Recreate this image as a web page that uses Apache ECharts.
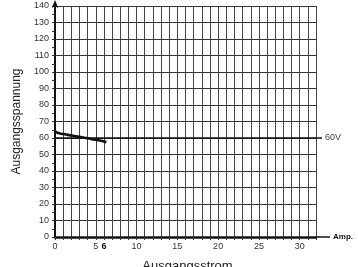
<!DOCTYPE html>
<html>
<head>
<meta charset="utf-8">
<script src="https://cdn.jsdelivr.net/npm/echarts@6/dist/echarts.min.js"></script>
<style>
  html, body { margin: 0; padding: 0; background: #fff; }
  #chart { width: 358px; height: 267px; }
</style>
</head>
<body>
<div id="chart"></div>
<script>
// Kennlinie: Ausgangsstrom (A) -> Ausgangsspannung (V)
const currentA = [0, 0.3, 1, 2, 3, 4, 5, 6.3];
const voltageV = [64.2, 63.2, 62.4, 61.5, 60.7, 59.8, 58.9, 57.5];
const xLabels = [0, 5, 6, 10, 15, 20, 25, 30];
const refVoltage = 60;
const refLabel = '60V';

const chart = echarts.init(document.getElementById('chart'), null, { renderer: 'canvas' });

const textColor = '#333';
const font = 'Liberation Sans, Arial, sans-serif';

chart.setOption({
  animation: false,
  grid: { left: 55, right: 42, top: 6, bottom: 30, containLabel: false, outerBoundsMode: 'none' },
  xAxis: {
    type: 'value',
    min: 0, max: 32, interval: 1,
    name: 'Ausgangsstrom',
    nameLocation: 'middle',
    nameGap: 23,
    nameTextStyle: { fontFamily: font, fontSize: 13, color: '#222', padding: [0, 0, 0, 4] },
    axisLine: { lineStyle: { color: '#111', width: 2.5 } },
    axisTick: { show: true, length: 3, lineStyle: { color: '#333' } },
    axisLabel: {
      margin: 5,
      fontFamily: font, fontSize: 9, color: textColor,
      formatter: (v) => {
        if (!xLabels.includes(v)) return '';
        return v === 6 ? '{b|6}' : String(v);
      },
      rich: { b: { fontWeight: 'bold', fontSize: 9, color: '#111', fontFamily: font } }
    },
    splitLine: { show: true, lineStyle: { color: '#444', width: 1 } }
  },
  yAxis: {
    type: 'value',
    min: 0, max: 140, interval: 10,
    name: 'Ausgangsspannung',
    nameLocation: 'middle',
    nameGap: 26,
    nameTextStyle: { fontFamily: font, fontSize: 12, color: '#222' },
    axisLine: { show: true, lineStyle: { color: '#111', width: 2 }, symbol: ['none', 'arrow'], symbolSize: [5, 8], symbolOffset: [0, 6] },
    axisTick: { show: true, length: 3, lineStyle: { color: '#333' } },
    minorTick: { show: true, splitNumber: 2, length: 3, lineStyle: { color: '#333' } },
    axisLabel: { margin: 6, fontFamily: font, fontSize: 9, color: textColor },
    splitLine: { show: true, lineStyle: { color: '#333', width: 1 } }
  },
  series: [
    {
      type: 'line',
      data: currentA.map((x, i) => [x, voltageV[i]]),
      smooth: true,
      showSymbol: false,
      lineStyle: { color: '#111', width: 2.6 },
      z: 5
    }
  ]
});

// Dekoration: Achsenpfeil, 60V-Linie, Beschriftungen
function decorate() {
  const origin = chart.convertToPixel({ gridIndex: 0 }, [0, 0]);
  const xEnd = chart.convertToPixel({ gridIndex: 0 }, [32, 0]);
  const ref0 = chart.convertToPixel({ gridIndex: 0 }, [0, refVoltage]);
  chart.setOption({
    graphic: [
      {
        type: 'line', z: 10,
        shape: { x1: ref0[0], y1: ref0[1], x2: xEnd[0] + 6, y2: ref0[1] },
        style: { stroke: '#111', lineWidth: 1.6 }
      },
      {
        type: 'text', z: 10,
        x: xEnd[0] + 9, y: ref0[1],
        style: { text: refLabel, fill: '#444', font: '9px ' + font, verticalAlign: 'middle' }
      },
      {
        type: 'line', z: 10,
        shape: { x1: xEnd[0], y1: origin[1], x2: xEnd[0] + 14, y2: origin[1] },
        style: { stroke: '#111', lineWidth: 1.5 }
      },
      {
        type: 'text', z: 10,
        x: xEnd[0] + 17, y: origin[1],
        style: { text: 'Amp.', fill: '#111', font: 'bold 8px ' + font, verticalAlign: 'middle' }
      }
    ]
  });
}
decorate();
</script>
</body>
</html>
